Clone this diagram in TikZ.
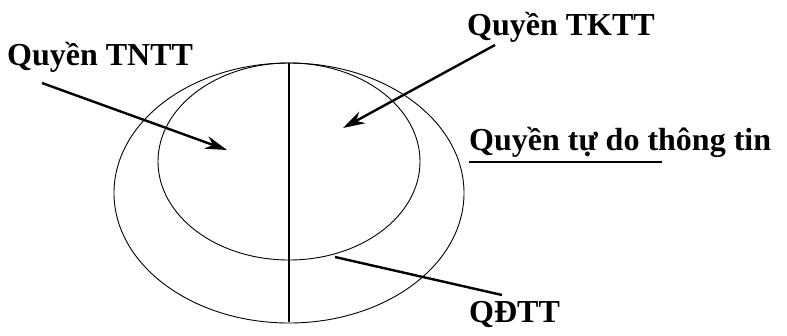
\documentclass[tikz,border=0pt]{standalone}
\usepackage{fontspec}
\setmainfont{Liberation Serif}
\usetikzlibrary{arrows.meta}
\begin{document}
\begin{tikzpicture}[x=1pt, y=-1pt,
    lbl/.style={font=\fontsize{32}{38}\bfseries\selectfont, inner sep=0pt, anchor=base west},
    pointer/.style={line width=2.4pt, -{Stealth[length=22pt, width=13pt]}},
    leader/.style={line width=2.4pt}]
    \useasboundingbox (0,0) rectangle (787,335);
    % Ellipses
    \draw[line width=0.9pt] (289,193) ellipse [x radius=175, y radius=130];
    \draw[line width=0.9pt] (289,161.5) ellipse [x radius=131, y radius=98.5];
    % Divider
    \coordinate (top) at (289,63);
    \coordinate (bot) at (289,322);
    \draw[line width=1.8pt] (top) -- (bot);
    % Labels
    \node[lbl] (tntt) at (7,65) {Quyền TNTT};
    \node[lbl] (tktt) at (467,35) {Quyền TKTT};
    \node[lbl] (tdtt) at (469,150) {Quyền tự do thông tin};
    \node[lbl] (qdtt) at (469,322) {QĐTT};
    % Pointers
    \coordinate (tnttS) at (42,83);   \coordinate (tnttE) at (227,150);
    \coordinate (tkttS) at (495,45);  \coordinate (tkttE) at (343,128);
    \coordinate (qdttS) at (335,257); \coordinate (qdttE) at (502,295);
    \coordinate (ulS) at (469,162);   \coordinate (ulE) at (662,162);
    \draw[pointer] (tnttS) -- (tnttE);
    \draw[pointer] (tkttS) -- (tkttE);
    \draw[leader] (qdttS) -- (qdttE);
    \draw[leader] (ulS) -- (ulE);
\end{tikzpicture}
\end{document}
